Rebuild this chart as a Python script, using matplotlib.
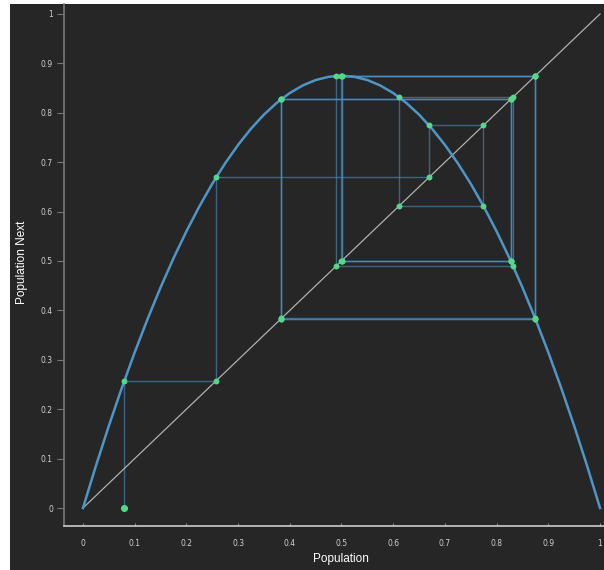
import matplotlib
matplotlib.use('Agg')
import matplotlib.pyplot as plt
from matplotlib.patches import Rectangle

# logistic curve y = r*x*(1-x), r = 3.5, tabulated
curve_x = [0, .025, .05, .075, .1, .125, .15, .175, .2, .225, .25, .275, .3, .325, .35, .375, .4, .425, .45, .475,
           .5, .525, .55, .575, .6, .625, .65, .675, .7, .725, .75, .775, .8, .825, .85, .875, .9, .925, .95, .975, 1]
curve_half = [0, .0853, .1663, .2428, .315, .3828, .4463, .5053, .56, .6103, .6563, .6978, .735, .7678, .7963,
              .8203, .84, .8553, .8663, .8728]
curve_y = curve_half + [.875] + curve_half[::-1]

# population iterates starting from 0.08
pops = [0.08, 0.2576, 0.6693, 0.7746, 0.6110, 0.8319, 0.4895, 0.8746, 0.3838, 0.8277,
        0.4991, 0.8750, 0.3828, 0.8269, 0.5009, 0.8750, 0.3828, 0.8269, 0.5009, 0.8750]

ticks = [0, .1, .2, .3, .4, .5, .6, .7, .8, .9, 1]
tick_labels = ['0', '0.1', '0.2', '0.3', '0.4', '0.5', '0.6', '0.7', '0.8', '0.9', '1']

BG = '#262626'
BLUE = '#4e96c8'
WEB = '#4b8fc2'
GREEN = '#52d888'

fig = plt.figure(figsize=(6.04, 5.70), dpi=100, facecolor='white')
bg = Rectangle((10 / 604, 0), 594 / 604, 566 / 570, transform=fig.transFigure,
               facecolor=BG, edgecolor='none', zorder=-10)
fig.add_artist(bg)
ax = fig.add_axes([64 / 604, 44 / 570, 540 / 604, 522 / 570])
ax.set_facecolor(BG)

# cobweb path
px = [pops[0]]
py = [0]
for i in range(len(pops) - 1):
    px += [pops[i], pops[i + 1]]
    py += [pops[i + 1], pops[i + 1]]
for i in range(len(px) - 1):
    ax.plot(px[i:i + 2], py[i:i + 2], color=WEB, lw=1.0, alpha=0.6, zorder=2,
            solid_capstyle='butt')

ax.plot([0, 1], [0, 1], color='#b0b0b0', lw=0.9, zorder=3)
ax.plot(curve_x, curve_y, color=BLUE, lw=1.8, zorder=4)

ax.scatter(px[1:], py[1:], s=18, color=GREEN, zorder=5, linewidths=0)
ax.scatter(px[:1], py[:1], s=26, color=GREEN, zorder=5, linewidths=0)

ax.set_xlim(-0.0367, 1.0077)
ax.set_ylim(-0.0364, 1.0202)
ax.set_xticks(ticks)
ax.set_xticklabels(tick_labels)
ax.set_yticks(ticks)
ax.set_yticklabels(tick_labels)

for s in ['top', 'right']:
    ax.spines[s].set_visible(False)
ax.spines['left'].set_color('#777777')
ax.spines['left'].set_linewidth(1.2)
ax.spines['bottom'].set_color('#cccccc')
ax.spines['bottom'].set_linewidth(1.2)
ax.tick_params(axis='y', direction='out', length=5, width=0.8, color='#777777',
               labelsize=5.5, labelcolor='#d0d0d0', pad=3)
ax.tick_params(axis='x', direction='in', length=2, width=0.8, color='#888888',
               labelsize=5.5, labelcolor='#d0d0d0', pad=9)

# axis titles placed in figure pixels
fig.text(341 / 604, 11 / 570, 'Population', fontsize=8.5, color='white',
         family='Liberation Sans', ha='center', va='center')
fig.text(22 / 604, 308 / 570, 'Population Next', fontsize=8.5, color='white',
         family='Liberation Sans', ha='center', va='center', rotation=90)

fig.savefig('out.png', dpi=100, facecolor=fig.get_facecolor())
